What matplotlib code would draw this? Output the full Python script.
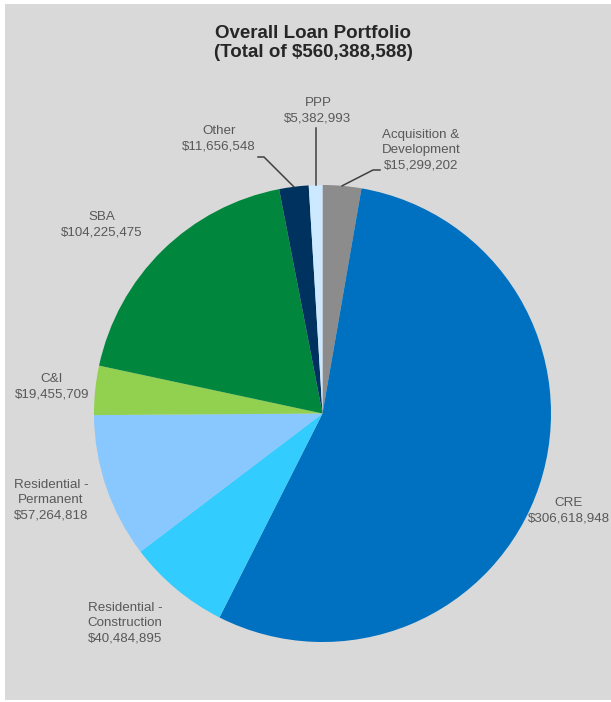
import matplotlib
matplotlib.use("Agg")
import matplotlib.pyplot as plt
from matplotlib.patches import Rectangle
import numpy as np

plt.rcParams['font.family'] = ['Liberation Sans', 'DejaVu Sans']

categories = ["Acquisition &\nDevelopment", "CRE", "Residential -\nConstruction",
              "Residential -\nPermanent", "C&I", "SBA", "Other", "PPP"]
values = [15299202, 306618948, 40484895, 57264818, 19455709, 104225475, 11656548, 5382993]
colors = ["#8c8c8c", "#0070c0", "#33ccff", "#88c8ff", "#92d050", "#00873d", "#00325f", "#cde9ff"]
title = "Overall Loan Portfolio\n(Total of ${:,})".format(sum(values))

W, H = 611, 702
fig = plt.figure(figsize=(W / 100, H / 100), dpi=100)
fig.patch.set_facecolor("white")
ax = fig.add_axes([0, 0, 1, 1])


def py(y):
    return H - y


ax.add_patch(Rectangle((5, py(700)), W - 5, 696, facecolor="#d9d9d9", edgecolor="none", zorder=0))

cx, cy, R = 322.5, py(413.5), 228.5
wedges, _ = ax.pie(values, colors=colors, startangle=90, counterclock=False,
                   center=(cx, cy), radius=R, wedgeprops=dict(linewidth=0))
ax.set_xlim(0, W)
ax.set_ylim(0, H)
ax.set_aspect("equal")
ax.axis("off")

ax.text(313, py(43), title, ha="center", va="center", fontsize=13.5, fontweight="bold",
        color="#262626", linespacing=1.15)

tc = "#595959"
fs = 9.6
# label centers (pixel coords)
label_pos = {
    0: (421, 150),
    1: (569, 511),
    2: (125, 623),
    3: (51, 500),
    4: (52, 387),
    5: (102, 225),
    6: (219, 139),
    7: (318, 111),
}
for i, (lx, ly) in label_pos.items():
    txt = "{}\n${:,}".format(categories[i], values[i])
    ax.text(lx, py(ly), txt, ha="center", va="center", fontsize=fs, color=tc, linespacing=1.35)


def rim(i):
    w = wedges[i]
    ang = np.deg2rad((w.theta1 + w.theta2) / 2)
    return cx + R * np.cos(ang), cy + R * np.sin(ang)

lc = "#404040"
# A&D leader
x0, y0 = rim(0)
ax.plot([x0, 373, 380], [y0, py(170), py(170)], color=lc, lw=1.1, zorder=3)
# Other leader
x0, y0 = rim(6)
ax.plot([x0, 264, 258], [y0, py(157), py(157)], color=lc, lw=1.1, zorder=3)
# PPP leader
x0, y0 = rim(7)
ax.plot([x0, x0], [y0, py(128)], color=lc, lw=1.1, zorder=3)

fig.savefig("out.png", dpi=100, facecolor="white")
